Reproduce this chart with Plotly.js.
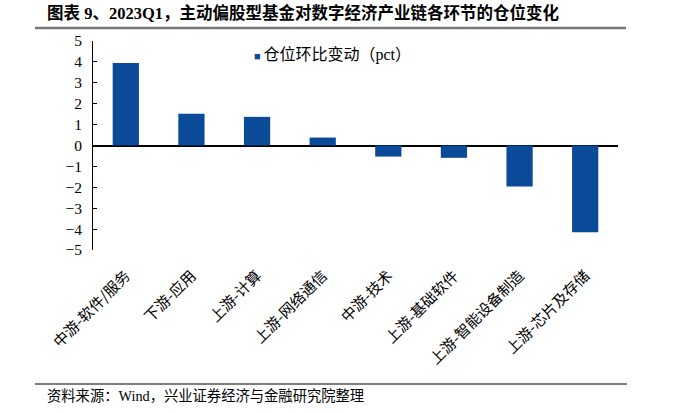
<!DOCTYPE html>
<html>
<head>
<meta charset="utf-8">
<script src="https://cdn.plot.ly/plotly-3.0.1.min.js"></script>
<style>
  html, body { margin: 0; padding: 0; background: #fff; }
  #vis { width: 700px; height: 413px; }
</style>
</head>
<body>
<div id="vis"></div>
<script>
// categories along the chain
const categories = [
  '中游-软件/服务',
  '下游-应用',
  '上游-计算',
  '上游-网络通信',
  '中游-技术',
  '上游-基础软件',
  '上游-智能设备制造',
  '上游-芯片及存储'
]
// quarter-on-quarter position change, pct
const changes = [3.95, 1.52, 1.37, 0.38, -0.53, -0.59, -1.96, -4.15]
const yTicks = [5, 4, 3, 2, 1, 0, -1, -2, -3, -4, -5]

const seriesName = '仓位环比变动（pct）'
const chartTitle = '图表 9、2023Q1，主动偏股型基金对数字经济产业链各环节的仓位变化'
const sourceNote = '资料来源：Wind，兴业证券经济与金融研究院整理'

const barColor = '#0b4a98'
const serifCjk = '"Liberation Serif", "Times New Roman", "Noto Sans CJK SC", serif'

// plot area in pixels, used to map the frame lines / notes into paper coords
const plotLeft = 93
const plotRight = 618
const plotTop = 41
const plotBottom = 250
const px = (x) => (x - plotLeft) / (plotRight - plotLeft)
const py = (y) => (plotBottom - y) / (plotBottom - plotTop)

const traces = [
  {
    type: 'bar',
    name: seriesName,
    x: categories,
    y: changes,
    marker: { color: barColor, line: { width: 0 } }
  }
]

const layout = {
  width: 700,
  height: 413,
  margin: { l: plotLeft, r: 700 - plotRight, t: plotTop, b: 413 - plotBottom },
  paper_bgcolor: '#fff',
  plot_bgcolor: '#fff',
  bargap: 0.6,
  font: { family: serifCjk, color: '#000' },
  xaxis: {
    type: 'category',
    tickangle: -45,
    showline: false,
    showgrid: false,
    zeroline: false,
    ticks: '',
    ticklabelstandoff: 13,
    tickfont: { family: '"Noto Sans CJK SC", sans-serif', size: 15, color: '#000' }
  },
  yaxis: {
    range: [-5, 5],
    tickvals: yTicks,
    showline: true,
    linecolor: '#000',
    linewidth: 1,
    ticks: 'inside',
    ticklen: 4,
    tickcolor: '#000',
    showgrid: false,
    zeroline: true,
    zerolinecolor: '#000',
    zerolinewidth: 1.5,
    ticklabelstandoff: 7,
    tickfont: { family: '"Liberation Serif", "Times New Roman", serif', size: 15.5, color: '#000' }
  },
  // legend drawn as a small key line, like the original
  showlegend: false,
  shapes: [
    {
      type: 'line', xref: 'paper', yref: 'paper',
      x0: px(35), x1: px(626), y0: py(28), y1: py(28),
      line: { color: '#777', width: 2.5 }
    },
    {
      type: 'line', xref: 'paper', yref: 'paper',
      x0: px(35), x1: px(627), y0: py(384), y1: py(384),
      line: { color: '#000', width: 1 }
    }
  ],
  annotations: [
    {
      text: '<b>' + chartTitle + '</b>',
      xref: 'paper', yref: 'paper',
      x: px(45), y: py(13),
      xanchor: 'left', yanchor: 'middle',
      showarrow: false,
      font: { family: serifCjk, size: 16.5, color: '#000' }
    },
    {
      text: '<span style="color:' + barColor + ';font-size:11px">■ </span>' + seriesName,
      xref: 'paper', yref: 'paper',
      x: px(252), y: py(55),
      xanchor: 'left', yanchor: 'middle',
      showarrow: false,
      font: { family: serifCjk, size: 16, color: '#000' }
    },
    {
      text: sourceNote,
      xref: 'paper', yref: 'paper',
      x: px(45), y: py(396),
      xanchor: 'left', yanchor: 'middle',
      showarrow: false,
      font: { family: serifCjk, size: 14.3, color: '#000' }
    }
  ]
}

const config = { displayModeBar: false, responsive: false }

Plotly.newPlot('vis', traces, layout, config)
</script>
</body>
</html>
